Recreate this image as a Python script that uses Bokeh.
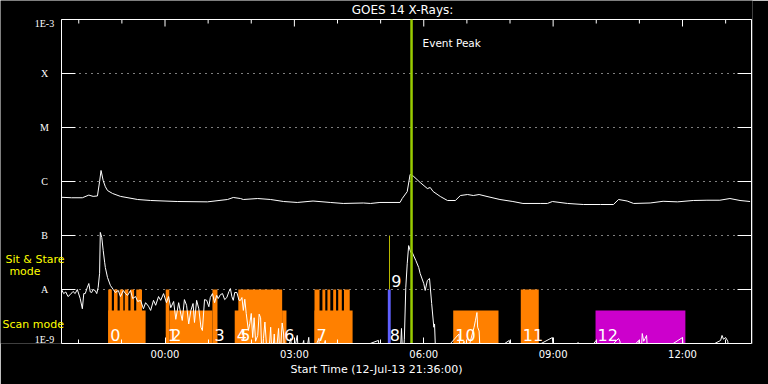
import math
import pandas as pd
from bokeh.plotting import figure
from bokeh.models import (Range1d, FixedTicker, DatetimeTickFormatter,
                          Label, LabelSet, ColumnDataSource)
from bokeh.core.properties import value
from bokeh.embed import file_html
from bokeh.resources import INLINE

# ---------------- data ----------------
title_text = "GOES 14 X-Rays:"
start_label = "Start Time (12-Jul-13 21:36:00)"
t_start = "21:36"
t_end = "13:36"
event_peak = "05:43"
event_text = "Event Peak"

level_values = [1e-9, 1e-8, 1e-7, 1e-6, 1e-5, 1e-4, 1e-3]
level_labels = ["1E-9", "A", "B", "C", "M", "X", "1E-3"]

major_tick_times = ["00:00", "03:00", "06:00", "09:00", "12:00"]
minor_tick_times = ["22:00", "23:00", "01:00", "02:00", "04:00", "05:00", "07:00", "08:00",
                    "10:00", "11:00", "13:00"]

# GOES long channel (1-8 A)
long_time = ["21:36", "21:50", "22:05", "22:14", "22:20", "22:26", "22:29", "22:31", "22:34",
             "22:37", "22:40", "22:47", "22:58", "23:22", "23:40", "00:17", "00:59", "01:27",
             "01:35", "01:45", "01:49", "02:09", "02:27", "02:45", "03:04", "03:26", "03:50",
             "04:08", "04:36", "04:46", "04:59", "05:27", "05:30", "05:37", "05:41", "05:46",
             "05:55", "06:05", "06:09", "06:13", "06:23", "06:33", "06:44", "06:51", "07:01",
             "07:09", "07:17", "07:28", "07:46", "08:04", "08:18", "08:42", "08:52", "08:59",
             "09:20", "09:42", "10:06", "10:24", "10:31", "10:43", "10:52", "11:15", "11:33",
             "11:53", "12:15", "12:34", "12:52", "13:06", "13:20", "13:34"]
long_flux = [5.1e-7, 5.0e-7, 5.0e-7, 5.6e-7, 5.3e-7, 5.4e-7, 1.0e-6, 1.6e-6, 1.04e-6,
             8.0e-7, 6.8e-7, 6.0e-7, 5.3e-7, 4.64e-7, 4.45e-7, 4.26e-7, 4.2e-7, 4.64e-7,
             5.06e-7, 4.84e-7, 4.64e-7, 4.84e-7, 4.64e-7, 4.26e-7, 4.09e-7, 4.35e-7, 4.09e-7,
             3.92e-7, 4.0e-7, 3.92e-7, 4.09e-7, 4.09e-7, 4.84e-7, 6.5e-7, 1.35e-6, 1.24e-6,
             9.6e-7, 7.4e-7, 7.74e-7, 6.53e-7, 5.28e-7, 4.45e-7, 4.45e-7, 5.5e-7, 5.74e-7,
             5.5e-7, 5.74e-7, 5.28e-7, 4.64e-7, 4.26e-7, 3.92e-7, 3.92e-7, 3.92e-7, 4.26e-7,
             3.92e-7, 3.75e-7, 3.75e-7, 3.75e-7, 4.64e-7, 4.35e-7, 3.92e-7, 4.0e-7, 4.3e-7,
             4.2e-7, 4.45e-7, 4.5e-7, 4.5e-7, 4.84e-7, 4.45e-7, 4.26e-7]

# GOES short channel (0.5-4 A); 5e-10 = below plotted range
short_time = ["21:36", "21:39", "21:42", "21:45", "21:48", "21:52", "21:55", "21:58", "22:02",
              "22:05", "22:07", "22:09", "22:12", "22:14", "22:16", "22:18", "22:20", "22:23",
              "22:25", "22:27", "22:29", "22:30", "22:32", "22:34", "22:36", "22:37", "22:40",
              "22:44", "22:48", "22:51", "22:55", "22:58", "23:02", "23:05", "23:08", "23:12",
              "23:15", "23:19", "23:22", "23:26", "23:30", "23:33", "23:37", "23:40", "23:44",
              "23:47", "23:51", "23:54", "23:58", "00:02", "00:05", "00:08", "00:12", "00:15",
              "00:19", "00:22", "00:24", "00:27", "00:30", "00:33", "00:36", "00:39", "00:41",
              "00:44", "00:47", "00:50", "00:52", "00:55", "00:58", "01:01", "01:03", "01:06",
              "01:09", "01:12", "01:14", "01:17", "01:20", "01:23", "01:26", "01:29", "01:31",
              "01:33", "01:35", "01:37", "01:40", "01:43", "01:45", "01:47", "01:49", "01:51",
              "01:53", "01:56", "01:58", "02:00", "02:02", "02:04", "02:06", "02:09", "02:11",
              "02:13", "02:15", "02:17", "02:19", "02:21", "02:24", "02:27", "02:29", "02:32",
              "02:34", "02:38", "02:40", "02:43", "02:45", "02:47", "02:55", "02:57", "03:04",
              "03:06", "03:13", "03:15", "03:20", "03:22", "03:34", "03:36", "03:43", "03:45",
              "04:57", "04:59", "05:27", "05:29", "05:31", "05:33", "05:35", "05:37", "05:39",
              "05:42", "05:44", "05:49", "05:53", "05:55", "06:00", "06:02", "06:05", "06:08",
              "06:11", "06:14", "06:15", "06:16", "06:17", "06:49", "06:51", "06:56", "06:58",
              "07:10", "07:12", "07:14", "07:15", "07:17", "07:19", "07:59", "08:01", "08:59",
              "09:01", "09:35", "09:37", "10:00", "10:02", "10:31", "10:33", "10:35", "10:59",
              "11:02", "11:04", "11:06", "11:08", "11:10", "11:12", "12:00", "12:02", "12:53",
              "12:55", "12:57", "13:00", "13:03", "13:05", "13:34"]
short_flux = [1.0e-8, 8.4e-9, 9.0e-9, 7.4e-9, 8.0e-9, 9.2e-9, 8.4e-9, 1.0e-8, 6.8e-9,
              4.4e-9, 8.4e-9, 8.4e-9, 1.1e-8, 1.29e-8, 9.0e-9, 8.8e-9, 1.0e-8, 9.5e-9,
              8.4e-9, 1.09e-8, 2.0e-8, 1.14e-7, 9.2e-8, 5.3e-8, 3.2e-8, 2.55e-8, 1.67e-8,
              1.19e-8, 1.0e-8, 8.8e-9, 9.6e-9, 7.4e-9, 9.6e-9, 8.4e-9, 7.8e-9, 9.6e-9,
              6.8e-9, 7.4e-9, 6.0e-9, 6.3e-9, 4.4e-9, 5.7e-9, 4.9e-9, 4.1e-9, 6.3e-9,
              5.1e-9, 7.4e-9, 6.3e-9, 8.4e-9, 5.7e-9, 7.4e-9, 4.6e-9, 6.0e-9, 2.8e-9,
              5.7e-9, 3.5e-9, 2.67e-9, 6.5e-9, 5.1e-9, 2.3e-9, 4.1e-9, 5.5e-9, 2.45e-9,
              6.3e-9, 4.4e-9, 2.0e-9, 1.74e-9, 6.5e-9, 6.3e-9, 4.8e-9, 7.1e-9, 8.4e-9,
              5.7e-9, 7.8e-9, 6.8e-9, 8.0e-9, 8.4e-9, 6.5e-9, 7.1e-9, 9.2e-9, 1.04e-8,
              7.4e-9, 6.3e-9, 8.8e-9, 8.8e-9, 6.3e-9, 6.3e-9, 7.1e-9, 4.1e-9, 6.6e-9,
              3.6e-9, 1.74e-9, 2.35e-9, 3.6e-9, 1.29e-9, 3.0e-9, 1.1e-9, 1.41e-9, 3.5e-9,
              3.0e-9, 5e-10, 1.24e-9, 2.5e-9, 1.0e-9, 5e-10, 2.0e-9, 5e-10, 1.5e-9,
              5e-10, 1.9e-9, 5e-10, 2.4e-9, 1.5e-9, 5e-10, 1.24e-9, 5e-10, 1.41e-9,
              5e-10, 1.14e-9, 5e-10, 1.3e-9, 5e-10, 1.24e-9, 5e-10, 1.14e-9, 5e-10,
              1.14e-9, 5e-10, 5e-10, 1.9e-9, 5e-10, 1.2e-9, 1.09e-8, 3.0e-8, 6.5e-8,
              4.84e-8, 4.84e-8, 3.44e-8, 2.55e-8, 1.98e-8, 1.29e-8, 9.6e-9, 1.47e-8, 1.6e-8,
              5.5e-9, 2.0e-9, 2.3e-9, 1.0e-9, 5e-10, 1.5e-9, 5e-10, 1.1e-9, 5e-10,
              2.0e-9, 2.7e-9, 3.75e-9, 2.0e-9, 1.7e-9, 5e-10, 1.14e-9, 5e-10, 1.29e-9,
              5e-10, 1.04e-9, 5e-10, 1.14e-9, 5e-10, 1.24e-9, 1.1e-9, 5e-10, 1.14e-9,
              5e-10, 1.53e-9, 1.1e-9, 1.24e-9, 1.41e-9, 5e-10, 1.29e-9, 5e-10, 1.14e-9,
              1.41e-9, 1.2e-9, 1.29e-9, 1.1e-9, 5e-10, 5e-10]

# observation blocks
obs_id = ["0", "1", "2", "3", "4", "5", "6", "7", "8", "9", "10", "11", "12"]
obs_start = ["22:41", "00:01", "00:06", "01:06", "01:37", "01:42", "02:43", "03:28", "05:10",
             "05:12", "06:41", "08:15", "09:59"]
obs_end = ["23:33", "00:06", "01:06", "01:13", "02:43", "02:43", "02:49", "04:21", "05:14",
           "05:13", "07:44", "08:40", "12:04"]
obs_low = [1e-9, 1e-9, 1e-9, 1e-9, 1e-9, 1e-9, 1e-9, 1e-9, 1e-9, 1e-8, 1e-9, 1e-9, 1e-9]
obs_high = [4.1e-9, 1e-8, 4.1e-9, 1e-8, 4.1e-9, 1e-8, 4.1e-9, 4.1e-9, 1e-8, 1e-7, 4.1e-9,
            1e-8, 4.1e-9]
obs_kind = ["A", "A", "A", "A", "A", "A", "A", "A", "B", "C", "A", "A", "D"]

# individual sit & stare rasters inside blocks 0 and 7
raster_start = ["22:41", "22:49", "22:57", "23:04", "23:12", "23:20",
                "03:28", "03:39", "03:46", "03:54", "04:01", "04:09"]
raster_end = ["22:46", "22:54", "23:02", "23:09", "23:17", "23:28",
              "03:35", "03:43", "03:50", "03:58", "04:06", "04:17"]
raster_high = 1e-8
raster_low = 1e-9

# ---------------- helpers ----------------
def to_dt(hhmm):
    h = int(hhmm[:2])
    day = "2013-07-12" if h >= 21 else "2013-07-13"
    return pd.Timestamp(f"{day} {hhmm}")

def to_ms(hhmm):
    return to_dt(hhmm).timestamp() * 1000.0

kind_colors = {"A": "#ff8000", "B": "#6060ff", "C": "#ffff00", "D": "#cc00cc"}
FONT = "DejaVu Sans"
WHITE = "white"

# ---------------- layout geometry (pixels) ----------------
W, H = 768, 384
box_left, box_right, box_top, box_bottom = 61, 751, 19, 343
frame_right = box_right + 1

x0_ms, x1_ms = to_ms(t_start), to_ms(t_end)
ms_per_px = (x1_ms - x0_ms) / (box_right - box_left)
y_lo, y_hi = level_values[0], level_values[-1]
dec_per_px = (math.log10(y_hi) - math.log10(y_lo)) / (box_bottom - box_top)

x_range = Range1d(x0_ms - box_left * ms_per_px, x1_ms + (frame_right - box_right) * ms_per_px)
y_range = Range1d(y_lo, 10 ** (math.log10(y_hi) + box_top * dec_per_px))

p = figure(width=W, height=H, x_axis_type="datetime", y_axis_type="log",
           y_axis_location=None, x_range=x_range, y_range=y_range,
           output_backend="svg", toolbar_location=None,
           background_fill_color="black", border_fill_color="black",
           min_border_left=0, min_border_right=W - frame_right, min_border_top=0,
           min_border_bottom=H - box_bottom)
p.outline_line_color = None
p.xgrid.visible = False
p.ygrid.visible = False

# bottom (time) axis
major_ms = [to_ms(t) for t in major_tick_times]
minor_ms = [to_ms(t) for t in minor_tick_times]
xticker = FixedTicker(ticks=major_ms, minor_ticks=minor_ms)
fmt = "%H:%M"
xfmt = DatetimeTickFormatter(microseconds=fmt, milliseconds=fmt, seconds=fmt, minsec=fmt,
                             minutes=fmt, hourmin=fmt, hours=fmt, days=fmt, months=fmt,
                             years=fmt, boundary_scaling=False, context=None)
xa = p.xaxis[0]
xa.ticker = xticker
xa.formatter = xfmt
xa.bounds = (x0_ms, x1_ms)
xa.axis_line_color = WHITE
xa.major_tick_line_color = WHITE
xa.minor_tick_line_color = WHITE
xa.major_tick_in = 6
xa.major_tick_out = 0
xa.minor_tick_in = 4
xa.minor_tick_out = 0
xa.major_label_text_color = WHITE
xa.major_label_text_font = FONT
xa.major_label_text_font_size = "10px"
xa.major_label_standoff = 5
xa.axis_label = start_label
xa.axis_label_text_color = WHITE
xa.axis_label_text_font = FONT
xa.axis_label_text_font_size = "11px"
xa.axis_label_text_font_style = "normal"
xa.axis_label_standoff = 0

# plot box: top, left, right edges
p.segment(x0=[x0_ms, x0_ms, x1_ms], y0=[y_hi, y_lo, y_lo],
          x1=[x1_ms, x0_ms, x1_ms], y1=[y_hi, y_hi, y_hi], line_color=WHITE, line_width=1)

# dotted level lines
grid_levels = level_values[1:-1]
p.segment(x0=[x0_ms] * len(grid_levels), y0=grid_levels, x1=[x1_ms] * len(grid_levels),
          y1=grid_levels, line_color=WHITE, line_width=1, line_dash="1 5")

# inward ticks on the left, right and top edges
n_lv = len(level_values)
p.ray(x=[x0_ms] * n_lv, y=level_values, length=14, length_units="screen",
      angle=0, line_color=WHITE, line_width=1)
p.ray(x=[x1_ms] * n_lv, y=level_values, length=14, length_units="screen",
      angle=math.pi, line_color=WHITE, line_width=1)
p.ray(x=major_ms, y=y_hi, length=7, length_units="screen", angle=-math.pi / 2,
      line_color=WHITE, line_width=1)
p.ray(x=minor_ms, y=y_hi, length=4, length_units="screen", angle=-math.pi / 2,
      line_color=WHITE, line_width=1)

# observation blocks
obs_src = ColumnDataSource(dict(
    left=[to_dt(t) for t in obs_start], right=[to_dt(t) for t in obs_end],
    bottom=obs_low, top=obs_high, color=[kind_colors[k] for k in obs_kind],
    label=obs_id))
p.quad(left="left", right="right", bottom="bottom", top="top", fill_color="color",
       line_color=None, source=obs_src)
p.quad(left=[to_dt(t) for t in raster_start], right=[to_dt(t) for t in raster_end],
       bottom=raster_low, top=raster_high, fill_color=kind_colors["A"], line_color=None)

# GOES curves (clipped to the plot box bottom by the frame)
p.line([to_dt(t) for t in long_time], long_flux, line_color=WHITE, line_width=1)
p.line([to_dt(t) for t in short_time], short_flux, line_color=WHITE, line_width=1)

# block numbers (text glyph: negative y_offset moves up)
p.text(x="left", y="bottom", text="label", source=obs_src, text_color=WHITE,
       text_font=value(FONT), text_font_size="16px", text_baseline="alphabetic",
       text_align="left", x_offset=2, y_offset=-9)

# event peak
peak_ms = to_ms(event_peak)
p.segment(x0=[peak_ms], y0=[y_lo], x1=[peak_ms], y1=[y_hi], line_color="#99cc00",
          line_width=2.5)
p.add_layout(Label(x=peak_ms, y=box_bottom - 42.5, x_units="data", y_units="screen",
                   x_offset=11, text=event_text, text_color=WHITE, text_font=FONT,
                   text_font_size="10.5px", text_baseline="middle"))

# title (screen units measured from the frame's bottom-left corner)
p.add_layout(Label(x=(box_left + box_right) / 2 - 4, y=box_bottom - 9, x_units="screen",
                   y_units="screen", text=title_text, text_color=WHITE, text_font=FONT,
                   text_font_size="12px", text_align="center", text_baseline="middle"))

# level labels (end labels nudged inside the box, as in the original)
lvl_dy = [4 if v == y_lo else (-4 if v == y_hi else 0) for v in level_values]
lvl_src = ColumnDataSource(dict(y=level_values, text=level_labels, dy=lvl_dy))
p.add_layout(LabelSet(x=44, y="y", text="text", y_offset="dy", x_units="screen",
                      y_units="data", source=lvl_src, text_color=WHITE, text_font=FONT,
                      text_font_size="10px", text_align="center", text_baseline="middle"))

# mode labels
for txt, x, y, align in [("Sit & Stare", 34.5, box_bottom - 259, "center"),
                         ("mode", 24.5, box_bottom - 271, "center"),
                         ("Scan mode", 2, box_bottom - 323.5, "left")]:
    p.add_layout(Label(x=x, y=y, x_units="screen", y_units="screen", text=txt,
                       text_color="#ffff00", text_font=FONT, text_font_size="11px",
                       text_align=align, text_baseline="middle"))

open("out.html", "w").write(file_html(p, INLINE, title="GOES 14 X-Rays"))
